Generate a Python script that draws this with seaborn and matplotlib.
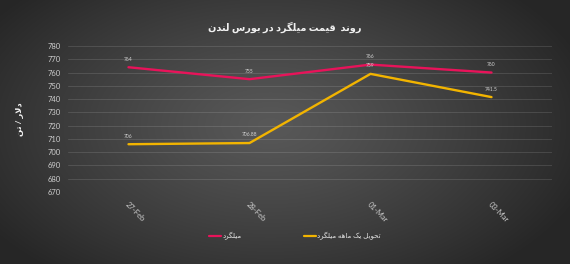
import numpy as np
import pandas as pd
import matplotlib
matplotlib.use("Agg")
import matplotlib.pyplot as plt
import seaborn as sns
from matplotlib.lines import Line2D

# ---------------- data ----------------
dates = ["27-Feb", "28-Feb", "01-Mar", "03-Mar"]
rebar = [764, 755, 766, 760]
rebar_1m = [706, 706.88, 759, 741.5]
rebar_labels = ["764", "755", "766", "760"]
rebar_1m_labels = ["706", "706.88", "759", "741.5"]
series_names = ["میلگرد", "تحویل یک ماهه میلگرد"]
title_text = "روند  قیمت میلگرد در بورس لندن"
ylabel_text = "دلار / تن"
yticks = [670, 680, 690, 700, 710, 720, 730, 740, 750, 760, 770, 780]

# ------------- simple Arabic/Persian shaping (for display) -------------
FORMS = {  # isolated, final, initial, medial
    "ا": ("\uFE8D", "\uFE8E", None, None),
    "ب": ("\uFE8F", "\uFE90", "\uFE91", "\uFE92"),
    "ت": ("\uFE95", "\uFE96", "\uFE97", "\uFE98"),
    "ح": ("\uFEA1", "\uFEA2", "\uFEA3", "\uFEA4"),
    "د": ("\uFEA9", "\uFEAA", None, None),
    "ر": ("\uFEAD", "\uFEAE", None, None),
    "س": ("\uFEB1", "\uFEB2", "\uFEB3", "\uFEB4"),
    "ق": ("\uFED5", "\uFED6", "\uFED7", "\uFED8"),
    "ل": ("\uFEDD", "\uFEDE", "\uFEDF", "\uFEE0"),
    "م": ("\uFEE1", "\uFEE2", "\uFEE3", "\uFEE4"),
    "ن": ("\uFEE5", "\uFEE6", "\uFEE7", "\uFEE8"),
    "ه": ("\uFEE9", "\uFEEA", "\uFEEB", "\uFEEC"),
    "و": ("\uFEED", "\uFEEE", None, None),
    "ی": ("\uFBFC", "\uFBFD", "\uFBFE", "\uFBFF"),
    "ک": ("\uFB8E", "\uFB8F", "\uFB90", "\uFB91"),
    "گ": ("\uFB92", "\uFB93", "\uFB94", "\uFB95"),
}


def shape(s):
    out = []
    i = 0
    n = len(s)
    while i < n:
        c = s[i]
        if c not in FORMS:
            out.append(c)
            i += 1
            continue
        prev = s[i - 1] if i > 0 else ""
        joins_prev = prev in FORMS and FORMS[prev][2] is not None
        if c == "ل" and i + 1 < n and s[i + 1] == "ا":
            out.append("\uFEFC" if joins_prev else "\uFEFB")
            i += 2
            continue
        nxt = s[i + 1] if i + 1 < n else ""
        joins_next = FORMS[c][2] is not None and nxt in FORMS
        iso, fin, ini, med = FORMS[c]
        if joins_prev and joins_next:
            out.append(med)
        elif joins_prev:
            out.append(fin)
        elif joins_next:
            out.append(ini)
        else:
            out.append(iso)
        i += 1
    return "".join(out)[::-1]


# ---------------- style ----------------
sns.set_theme(style="dark")
plt.rcParams["font.family"] = ["Lato", "DejaVu Sans"]

W, H = 570, 264
fig = plt.figure(figsize=(W / 100, H / 100), dpi=100)

# radial gradient background
bg = fig.add_axes([0, 0, 1, 1], zorder=-10)
yy, xx = np.mgrid[0:H, 0:W]
r = np.sqrt(((xx - 270) / 330.0) ** 2 + ((yy - 125) / 190.0) ** 2)
r = np.clip(r, 0, 1)
val = 0x58 / 255 - (0x58 - 0x27) / 255 * r ** 1.2
bg.imshow(np.dstack([val, val, val]), aspect="auto", extent=[0, W, H, 0])
bg.set_axis_off()

ax = fig.add_axes([68 / W, 1 - 192 / H, (552 - 68) / W, (192 - 46) / H])
ax.set_facecolor("none")

df = pd.DataFrame({
    "date": dates * 2,
    "price": rebar + rebar_1m,
    "series": [series_names[0]] * len(dates) + [series_names[1]] * len(dates),
})
colors = ["#E8135A", "#F2B400"]
sns.lineplot(data=df, x="date", y="price", hue="series", palette=colors,
             sort=False, linewidth=1.7, ax=ax, legend=False)

for vals, labs in ((rebar, rebar_labels), (rebar_1m, rebar_1m_labels)):
    for i, (v, lab) in enumerate(zip(vals, labs)):
        ax.annotate(lab, (i, v), xytext=(0, 4), textcoords="offset points",
                    ha="center", va="bottom", fontsize=3.6, color="#d0d0d0")

ax.set_xlim(-0.5, 3.5)
ax.set_ylim(670, 780)
ax.set_yticks(yticks)
ax.grid(axis="y", color="white", alpha=0.12, linewidth=0.7)
ax.grid(axis="x", visible=False)
for sp in ax.spines.values():
    sp.set_visible(False)
ax.tick_params(axis="both", length=0, colors="#cccccc")
ax.tick_params(axis="y", labelsize=5.5, pad=5)
ax.tick_params(axis="x", labelsize=5.5, pad=6)
for lab in ax.get_xticklabels():
    lab.set_rotation(-45)
    lab.set_ha("left")
    lab.set_va("top")
    lab.set_rotation_mode("anchor")
ax.set_xlabel("")
ax.set_ylabel(shape(ylabel_text), color="#f2f2f2", fontsize=6,
              fontweight="bold", labelpad=17)

fig.text(0.5, 1 - 27 / H, shape(title_text), ha="center", va="center",
         fontsize=7, fontweight="bold", color="#f0f0f0")

handles = [Line2D([], [], color=c, linewidth=1.6) for c in colors]
leg = fig.legend(handles, [shape(s) for s in series_names], ncol=2,
                 loc="center", bbox_to_anchor=(295 / W, 1 - 236 / H),
                 frameon=False, fontsize=5, handlelength=1.7,
                 handletextpad=0.2, columnspacing=9)
for t in leg.get_texts():
    t.set_color("#e6e6e6")

fig.savefig("out.png", dpi=100)
